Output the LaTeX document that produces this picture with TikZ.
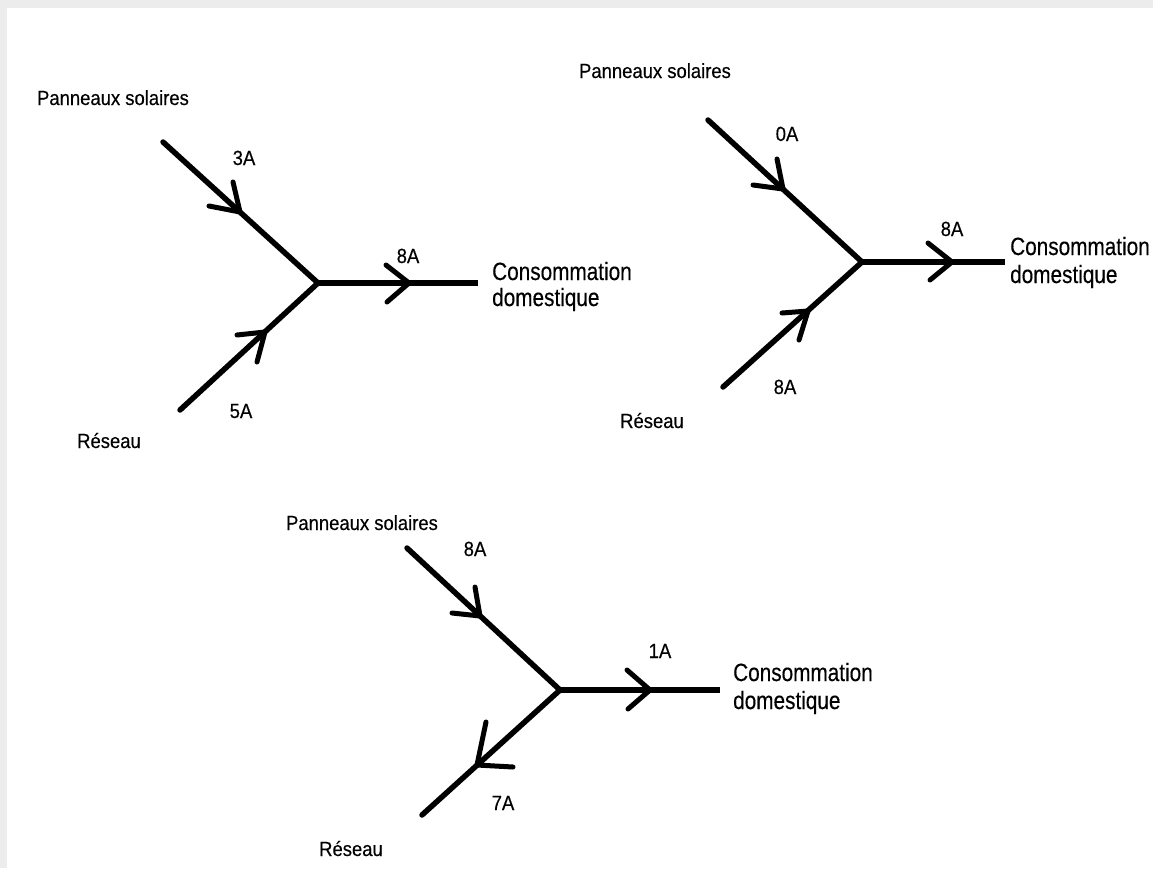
\documentclass[tikz,border=0pt]{standalone}
\usepackage{fontspec}
\setmainfont{Liberation Sans}
\newfontfamily\lblfont[FakeStretch=0.9,FakeBold=0.3]{Liberation Sans}
\newfontfamily\bigfont[FakeStretch=0.83,FakeBold=0.3]{Liberation Sans}
\begin{document}
\begin{tikzpicture}[x=1pt,y=-1pt,
  wire/.style={line width=5.5pt, line cap=round, line join=miter},
  hwire/.style={line width=6.5pt, line cap=butt},
  barb/.style={line width=5pt, line cap=round, line join=round},
  lbl/.style={font=\lblfont\fontsize{20.5}{24}\selectfont, inner sep=0pt, anchor=base},
  big/.style={font=\bigfont\fontsize{25}{29}\selectfont, inner sep=0pt, anchor=base west}]
\useasboundingbox (0,0) rectangle (1153,868);
\fill[white] (0,0) rectangle (1153,868);
\fill[gray!15] (0,0) rectangle (1153,8);
\fill[gray!15] (0,0) rectangle (7,868);

% ---------- diagram 1 ----------
\coordinate (s1) at (163,142);
\coordinate (j1) at (318,283);
\coordinate (r1) at (180,410);
\coordinate (e1) at (478,283);
\coordinate (t1a) at (240,212);
\coordinate (b1a) at (233,182);
\coordinate (b1b) at (209,206);
\coordinate (t1b) at (265,332);
\coordinate (b1c) at (237,335);
\coordinate (b1d) at (257,362);
\coordinate (t1c) at (409,283);
\coordinate (b1e) at (386,265);
\coordinate (b1f) at (387,302);
\draw[wire] (s1) -- (j1) -- (r1);
\draw[hwire] (j1) -- (e1);
\draw[barb] (b1a) -- (t1a) -- (b1b);
\draw[barb] (b1c) -- (t1b) -- (b1d);
\draw[barb] (b1e) -- (t1c) -- (b1f);
\node[lbl] (p1) at (113,105) {Panneaux solaires};
\node[lbl] (i1a) at (244,165) {3A};
\node[lbl] (i1b) at (241,418) {5A};
\node[lbl] (i1c) at (408,263) {8A};
\node[lbl] (res1) at (109,448) {Réseau};
\node[big] (c1) at (492,280) {Consommation};
\node[big] (d1) at (492,306) {domestique};

% ---------- diagram 2 ----------
\coordinate (s2) at (708,120);
\coordinate (j2) at (862,262);
\coordinate (r2) at (723,387);
\coordinate (e2) at (1005,262);
\coordinate (t2a) at (783,189);
\coordinate (b2a) at (777,159);
\coordinate (b2b) at (753,185);
\coordinate (t2b) at (808,311);
\coordinate (b2c) at (782,313);
\coordinate (b2d) at (799,340);
\coordinate (t2c) at (952,262);
\coordinate (b2e) at (928,243);
\coordinate (b2f) at (930,280);
\draw[wire] (s2) -- (j2) -- (r2);
\draw[hwire] (j2) -- (e2);
\draw[barb] (b2a) -- (t2a) -- (b2b);
\draw[barb] (b2c) -- (t2b) -- (b2d);
\draw[barb] (b2e) -- (t2c) -- (b2f);
\node[lbl] (p2) at (655,78) {Panneaux solaires};
\node[lbl] (i2a) at (787,141) {0A};
\node[lbl] (i2b) at (785,394) {8A};
\node[lbl] (i2c) at (952,236) {8A};
\node[lbl] (res2) at (652,428) {Réseau};
\node[big] (c2) at (1010,255) {Consommation};
\node[big] (d2) at (1010,283) {domestique};

% ---------- diagram 3 ----------
\coordinate (s3) at (407,548);
\coordinate (j3) at (560,690);
\coordinate (r3) at (422,815);
\coordinate (e3) at (720,690);
\coordinate (t3a) at (480,616);
\coordinate (b3a) at (475,587);
\coordinate (b3b) at (452,613);
\coordinate (t3b) at (477,765);
\coordinate (b3c) at (486,722);
\coordinate (b3d) at (513,767);
\coordinate (t3c) at (650,690);
\coordinate (b3e) at (627,670);
\coordinate (b3f) at (628,709);
\draw[wire] (s3) -- (j3) -- (r3);
\draw[hwire] (j3) -- (e3);
\draw[barb] (b3a) -- (t3a) -- (b3b);
\draw[barb] (b3c) -- (t3b) -- (b3d);
\draw[barb] (b3e) -- (t3c) -- (b3f);
\node[lbl] (p3) at (362,530) {Panneaux solaires};
\node[lbl] (i3a) at (475,556) {8A};
\node[lbl] (i3b) at (503,810) {7A};
\node[lbl] (i3c) at (660,658) {1A};
\node[lbl] (res3) at (351,856) {Réseau};
\node[big] (c3) at (733,681) {Consommation};
\node[big] (d3) at (733,709) {domestique};
\end{tikzpicture}
\end{document}
